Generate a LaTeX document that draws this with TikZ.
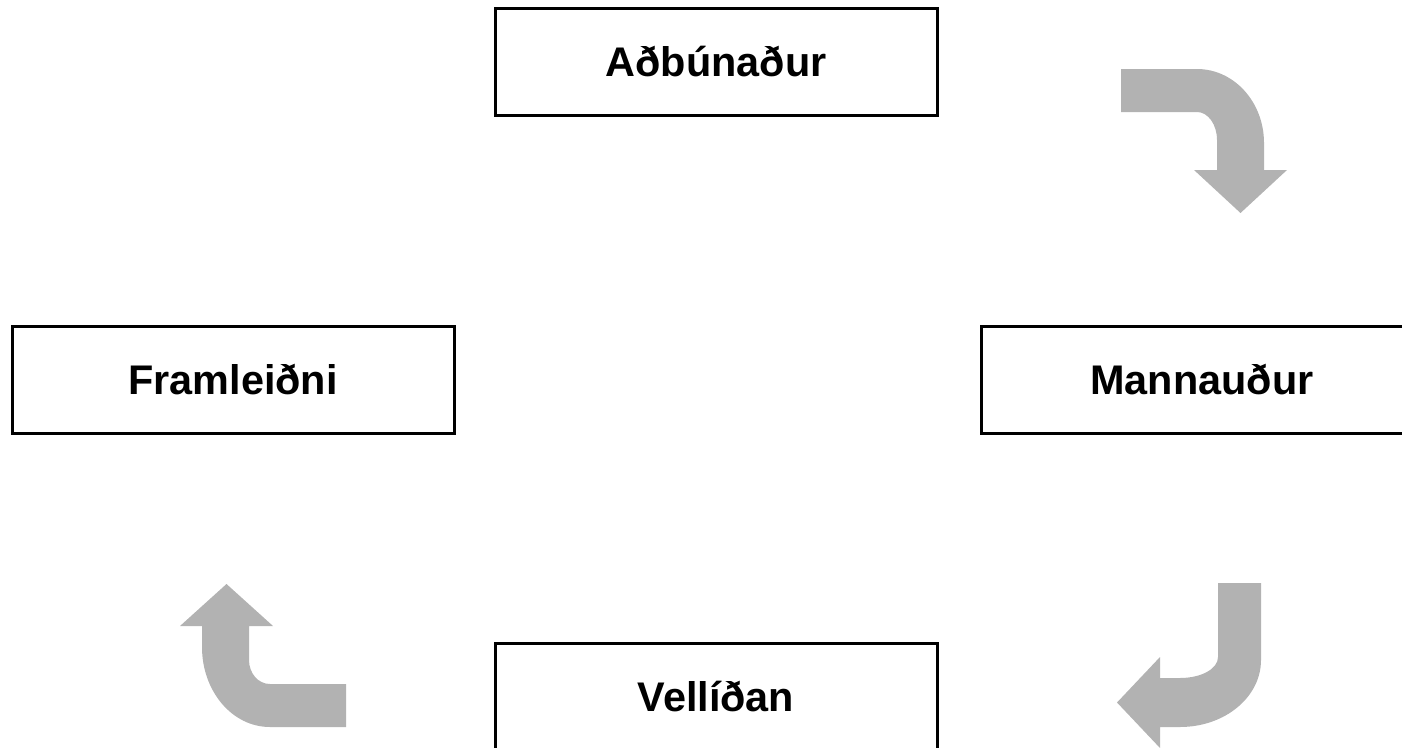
\documentclass[tikz,border=0pt]{standalone}
\usepackage{fontspec}
\setmainfont{Liberation Sans}
\usepackage{tikz}
\usepackage{xcolor}
\tikzset{
    cycle-box/.style = {draw=black, fill=white, line width=3pt, rectangle, minimum width=442pt, minimum height=107pt, inner sep=0pt, font=\fontsize{41.4}{50}\selectfont\bfseries},
    bent-arrow/.style = {fill=black!30, draw=none},
}

\begin{document}
\begin{tikzpicture}[x=1pt, y=-1pt]
\clip (0,0) rectangle (1402,747);
\node [cycle-box] (adbunadur) at (716,61.5) {Aðbúnaður};
\node [cycle-box] (mannaudur) at (1202,380) {Mannauður};
\node [cycle-box] (framleidni) at (233,380) {Framleiðni};
\node [cycle-box] (vellidan) at (716,696.5) {Vellíðan};
\fill [bent-arrow] (1121,69) -- (1197,69) .. controls (1234,69) and (1264,102) .. (1264,143)
    -- (1264,170) -- (1287,170) -- (1240.5,213) -- (1194,170) -- (1217,170) -- (1217,140)
    .. controls (1217,124.5) and (1208,112) .. (1197,112) -- (1121,112) -- cycle;
\fill [bent-arrow] (1261,583) -- (1261,660) .. controls (1261,697) and (1225,727) .. (1180,727)
    -- (1160,727) -- (1160,748) -- (1117,702.5) -- (1160,657) -- (1160,678) -- (1180,678)
    .. controls (1201,678) and (1218,669) .. (1218,657) -- (1218,583) -- cycle;
\fill [bent-arrow] (346,684) -- (270,684) .. controls (258,684) and (249,673) .. (249,660)
    -- (249,626) -- (273,626) -- (226.5,584) -- (180,626) -- (202,626) -- (202,647)
    .. controls (202,691) and (232,727) .. (270,727) -- (346,727) -- cycle;
\end{tikzpicture}
\end{document}
